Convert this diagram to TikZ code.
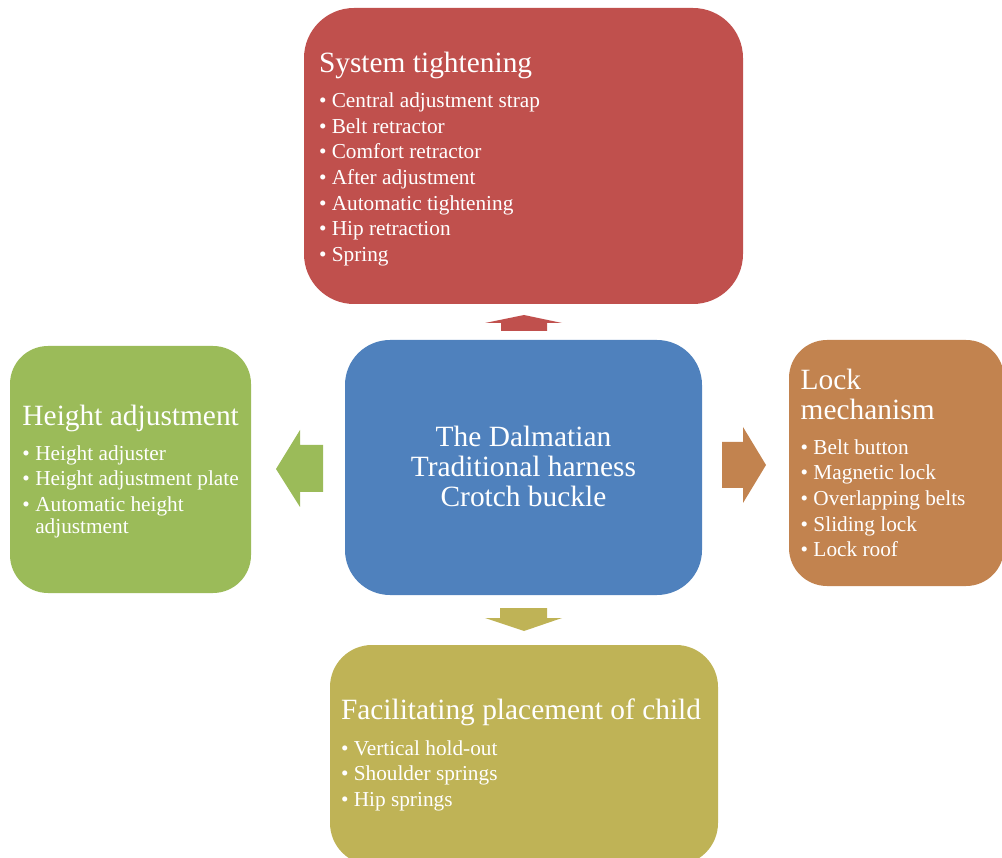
\documentclass[tikz,border=0pt]{standalone}
\usepackage{fontspec}
\setmainfont{Liberation Serif}
\definecolor{cred}{HTML}{C0504D}
\definecolor{cblue}{HTML}{4F81BD}
\definecolor{cgreen}{HTML}{9BBB59}
\definecolor{corange}{HTML}{C2834F}
\definecolor{colive}{HTML}{BFB356}
\newcommand\headfont{\fontsize{29.4}{30}\selectfont}
\newcommand\itemfont{\fontsize{21.3}{25.6}\selectfont}
\begin{document}
\begin{tikzpicture}[x=1pt,y=-1pt,
  panel/.style={rounded corners=#1, inner sep=0pt, outer sep=0pt},
  label/.style={anchor=base west, inner sep=0pt, outer sep=0pt, text=white}]
\useasboundingbox (0,0) rectangle (1002,858);
\clip (0,0) rectangle (1002,858);

% panels
\node[panel=50pt, fill=cred, minimum width=439pt, minimum height=296pt] (sys) at (523.5,156) {};
\node[panel=45pt, fill=cblue, minimum width=357pt, minimum height=255pt] (core) at (523.5,467.5) {};
\node[panel=38pt, fill=cgreen, minimum width=241pt, minimum height=247pt] (height) at (130.5,469.5) {};
\node[panel=38pt, fill=corange, minimum width=215pt, minimum height=246pt] (lock) at (896.5,463) {};
\node[panel=42pt, fill=colive, minimum width=388pt, minimum height=220pt] (place) at (524,755) {};

% block arrows between the panels
\fill[cred] (524,315) -- (562,323) -- (547,323) -- (547,331) -- (501,331) -- (501,323) -- (485,323) -- cycle;
\fill[colive] (500,608) -- (547,608) -- (547,618) -- (562,618) -- (524,631) -- (485,618) -- (500,618) -- cycle;
\fill[cgreen] (323,445) -- (323,492) -- (300,492) -- (300,507) -- (276,469) -- (300,430) -- (300,445) -- cycle;
\fill[corange] (722,442) -- (743,442) -- (743,427) -- (766,465) -- (743,503) -- (743,488) -- (722,488) -- cycle;

% texts
\node[label, anchor=base] (coretxt) at (523.5,446.7) {\parbox[t]{340pt}{\centering\headfont
  The Dalmatian\\Traditional harness\\Crotch buckle}};

\node[label] (systxt) at (319,72.3) {\parbox[t]{420pt}{\raggedright
  {\headfont System tightening\par}\vspace{9.9pt}
  {\itemfont • Central adjustment strap\\
  • Belt retractor\\
  • Comfort retractor\\
  • After adjustment\\
  • Automatic tightening\\
  • Hip retraction\\
  • Spring\par}}};

\node[label] (heighttxt) at (22.5,425.6) {\parbox[t]{230pt}{\raggedright
  {\headfont Height adjustment\par}\vspace{9.1pt}
  {\itemfont • Height adjuster\\
  • Height adjustment plate\\
  • Automatic height\\[-3.4pt]
  \phantom{•\ }adjustment\par}}};

\node[label] (locktxt) at (800.7,389.3) {\parbox[t]{200pt}{\raggedright
  {\headfont Lock\\mechanism\par}\vspace{9.4pt}
  {\itemfont • Belt button\\
  • Magnetic lock\\
  • Overlapping belts\\
  • Sliding lock\\
  • Lock roof\par}}};

\node[label] (placetxt) at (341,719.3) {\parbox[t]{380pt}{\raggedright
  {\headfont Facilitating placement of child\par}\vspace{10.4pt}
  {\itemfont • Vertical hold-out\\
  • Shoulder springs\\
  • Hip springs\par}}};
\end{tikzpicture}
\end{document}
